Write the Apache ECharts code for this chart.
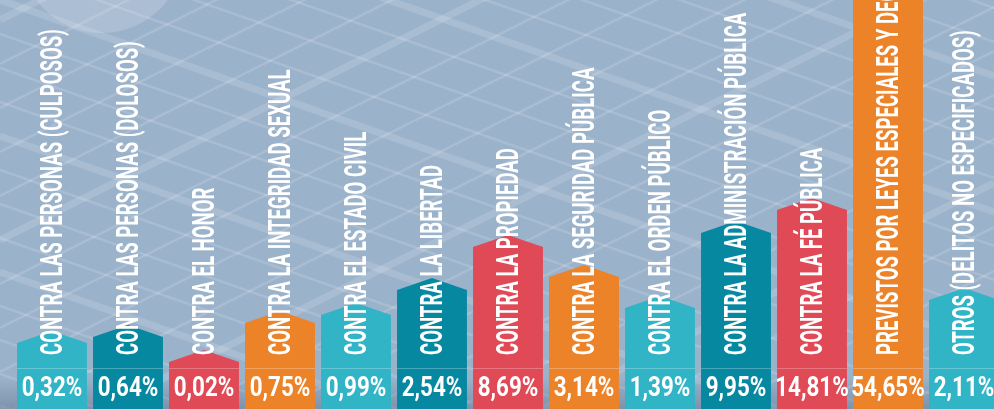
<!DOCTYPE html>
<html>
<head>
<meta charset="utf-8">
<title>Delitos por tipo</title>
<script src="https://cdn.jsdelivr.net/npm/echarts@6/dist/echarts.min.js"></script>
<style>
  html, body { margin: 0; padding: 0; background: #9bb2cb; }
  #main { width: 994px; height: 409px; }
</style>
</head>
<body>
<div id="main"></div>
<script>
// categorias (de izquierda a derecha)
var categories = [
  'CONTRA LAS PERSONAS (CULPOSOS)',
  'CONTRA LAS PERSONAS (DOLOSOS)',
  'CONTRA EL HONOR',
  'CONTRA LA INTEGRIDAD SEXUAL',
  'CONTRA EL ESTADO CIVIL',
  'CONTRA LA LIBERTAD',
  'CONTRA LA PROPIEDAD',
  'CONTRA LA SEGURIDAD PÚBLICA',
  'CONTRA EL ORDEN PÚBLICO',
  'CONTRA LA ADMINISTRACIÓN PÚBLICA',
  'CONTRA LA FÉ PÚBLICA',
  'PREVISTOS POR LEYES ESPECIALES Y DECRETOS',
  'OTROS (DELITOS NO ESPECIFICADOS)'
];
// porcentaje de cada tipo
var shares = [0.32, 0.64, 0.02, 0.75, 0.99, 2.54, 8.69, 3.14, 1.39, 9.95, 14.81, 54.65, 2.11];
// altura visual de cada columna (leida del grafico, no es proporcional)
var barLevel = [25, 31, 6, 45, 53, 78, 121, 91, 60, 135, 158, 420, 68];
var palette = ['#30b4c6', '#0788a1', '#e04956', '#ec8329'];

var chart = echarts.init(document.getElementById('main'));

function fmtShare(v) {
  return v.toFixed(2).replace('.', ',') + '%';
}

function renderBar(params, api) {
  var i = api.value(0);
  var top = api.coord([i, api.value(1)]);
  var base = api.coord([i, 0]);
  var w = api.size([1, 0])[0] * 0.92;
  var cx = top[0];
  var x0 = cx - w / 2, x1 = cx + w / 2;
  var color = palette[i % palette.length];
  var bottom = api.getHeight();
  return {
    type: 'group',
    children: [{
      type: 'polygon',
      shape: { points: [[x0, base[1]], [x0, top[1]], [cx, top[1] - 12], [x1, top[1]], [x1, base[1]]] },
      style: { fill: color }
    }, {
      type: 'rect',
      shape: { x: x0, y: base[1], width: w, height: bottom - base[1] },
      style: { fill: color }
    }, {
      type: 'line',
      shape: { x1: x0, y1: base[1] + 0.5, x2: x1, y2: base[1] + 0.5 },
      style: { stroke: 'rgba(255,255,255,0.25)', lineWidth: 1 }
    }, {
      // nombre vertical
      type: 'text',
      x: cx + 2,
      y: base[1] - 13,
      rotation: Math.PI / 2,
      scaleX: 0.6,
      style: {
        text: categories[i],
        fill: '#fff',
        font: 'bold 31px Roboto',
        align: 'left',
        verticalAlign: 'middle'
      }
    }, {
      type: 'text',
      x: cx,
      y: base[1] + 21,
      scaleX: 0.8,
      style: {
        text: fmtShare(shares[i]),
        fill: '#fff',
        font: 'bold 28px Roboto',
        align: 'center',
        verticalAlign: 'middle'
      }
    }]
  };
}

// fondo: rejilla diagonal
var deco = [];
deco.push({ type: 'circle', shape: { cx: 102, cy: -49, r: 82 }, style: { fill: 'rgba(255,255,255,0.16)' }, z: 0 });
for (var k = -30; k < 30; k++) {
  var yA = k * 34;
  deco.push({ type: 'line', shape: { x1: 0, y1: yA, x2: 994, y2: yA + 994 * 0.35 },
    style: { stroke: 'rgba(255,255,255,0.15)', lineWidth: k % 4 == 0 ? 7 : 2.5 }, z: 0 });
  var yB = k * 44 + 20;
  deco.push({ type: 'line', shape: { x1: 0, y1: yB, x2: 994, y2: yB - 994 * 0.5 },
    style: { stroke: 'rgba(255,255,255,0.15)', lineWidth: k % 5 == 0 ? 7 : 2.5 }, z: 0 });
}
deco.push({ type: 'rect', shape: { x: 0, y: 378, width: 994, height: 31 }, z: 1,
  style: { fill: new echarts.graphic.LinearGradient(0, 0, 0, 1, [
    { offset: 0, color: 'rgba(70,85,110,0)' }, { offset: 1, color: 'rgba(70,85,110,0.35)' }]) } });

var option = {
  backgroundColor: '#9bb2cb',
  animation: false,
  graphic: deco,
  grid: { left: 14, right: -8, top: 0, bottom: 41, outerBoundsMode: 'none' },
  xAxis: { type: 'category', data: categories, show: false },
  yAxis: { type: 'value', min: 0, max: 368, show: false },
  series: [{
    type: 'custom',
    renderItem: renderBar,
    clip: false,
    encode: { x: 0, y: 1 },
    data: barLevel.map(function (v, i) { return [i, v]; }),
    z: 5
  }]
};
chart.setOption(option);
</script>
</body>
</html>
